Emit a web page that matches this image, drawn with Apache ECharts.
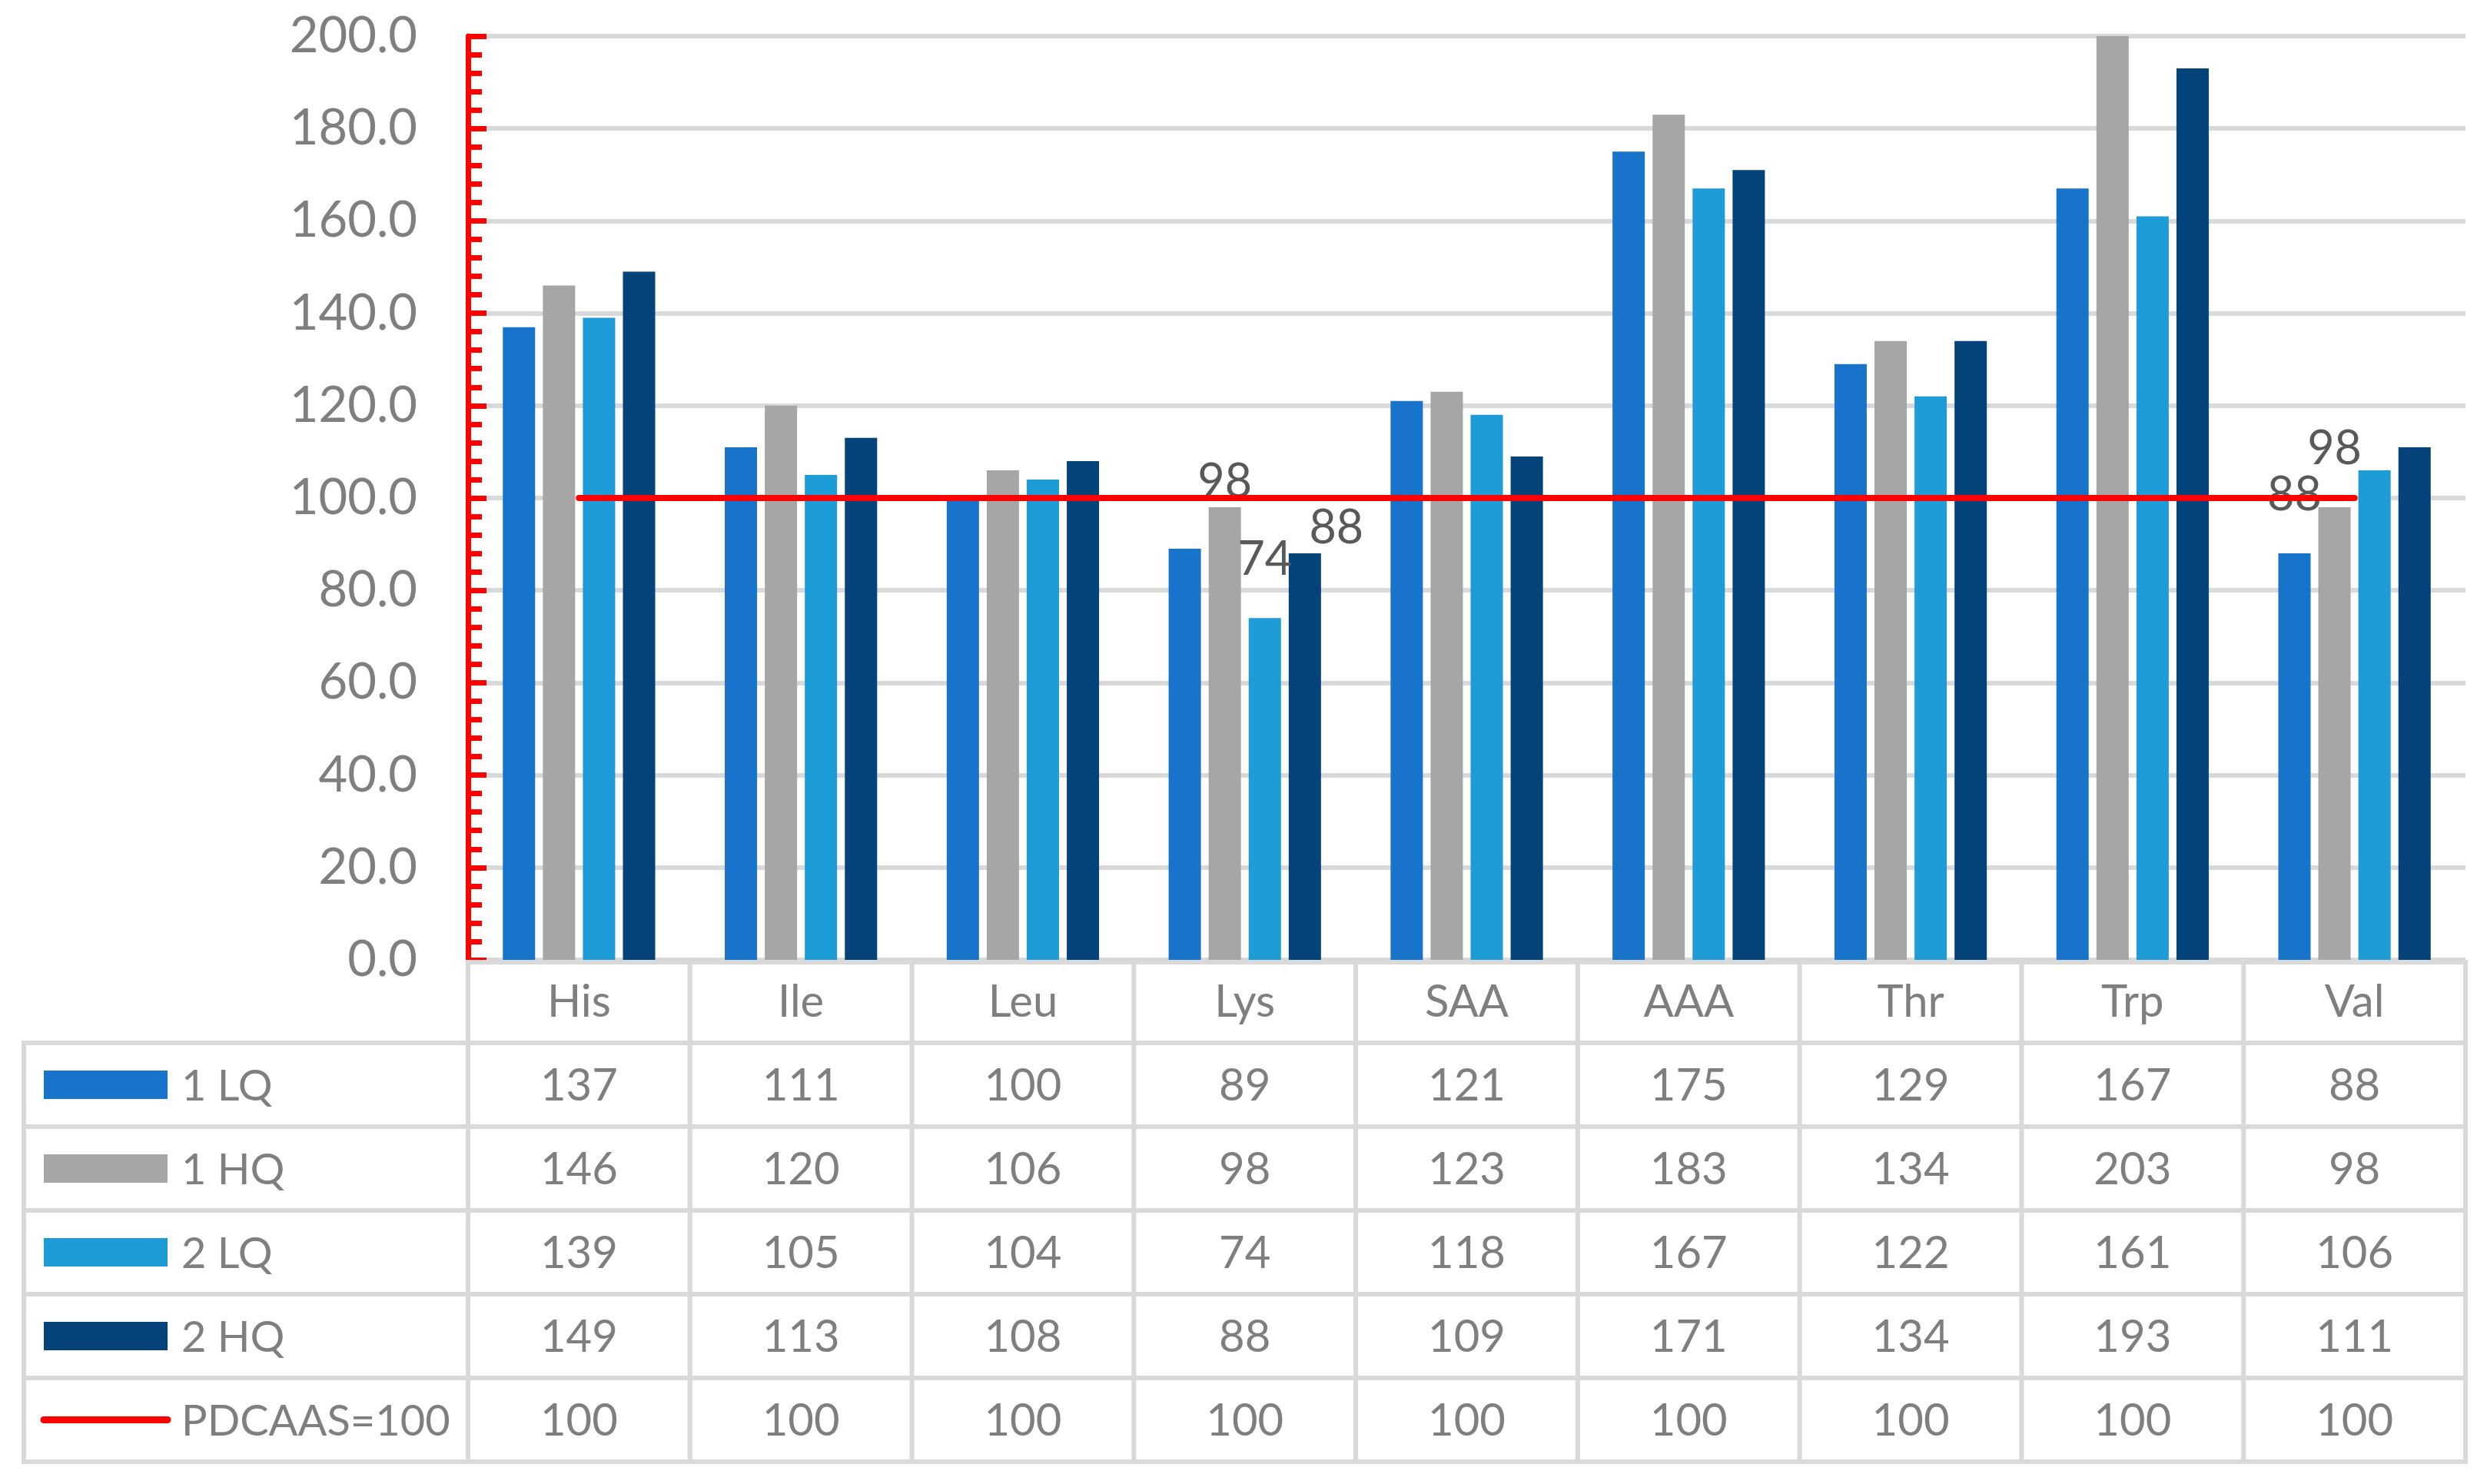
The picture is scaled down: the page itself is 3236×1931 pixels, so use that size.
<!DOCTYPE html>
<html>
<head>
<meta charset="utf-8">
<script src="https://cdn.jsdelivr.net/npm/echarts@6/dist/echarts.min.js"></script>
<style>
html,body{margin:0;padding:0;background:#fff;}
#c{width:3236px;height:1931px;}
</style>
</head>
<body>
<div id="c"></div>
<script>
const categories = ['His','Ile','Leu','Lys','SAA','AAA','Thr','Trp','Val'];
const seriesNames = ['1 LQ','1 HQ','2 LQ','2 HQ','PDCAAS=100'];
const s1LQ = [137,111,100,89,121,175,129,167,88];
const s1HQ = [146,120,106,98,123,183,134,203,98];
const s2LQ = [139,105,104,74,118,167,122,161,106];
const s2HQ = [149,113,108,88,109,171,134,193,111];
const pdcaas = [100,100,100,100,100,100,100,100,100];
const yMin = 0, yMax = 200, yStep = 20;

// which bars carry a value label (series index, category index)
const labeled = [[1,3],[2,3],[3,3],[0,8],[1,8]];
const labelOffsets = {'1,3':[0,0],'2,3':[0,-43],'3,3':[41,0],'0,8':[0,-43],'1,8':[0,-43]};

const barColors = ['#1873CB','#A6A6A6','#1E9CD8','#03437A'];
const lineColor = '#FF0000';
const gridColor = '#D9D9D9';
const textColor = '#7F7F7F';
const FONT = 'Lato';

const barData = [s1LQ, s1HQ, s2LQ, s2HQ];

const chart = echarts.init(document.getElementById('c'), null, {renderer:'canvas'});

function buildBarSeries(idx){
  return {
    name: seriesNames[idx],
    type: 'bar',
    barWidth: 42,
    barGap: '24%',
    itemStyle: {color: barColors[idx]},
    z: 2,
    data: barData[idx].map((v, ci) => {
      const key = idx + ',' + ci;
      if (labeled.some(p => p[0] === idx && p[1] === ci)) {
        return {value: v, label: {show: true, position: 'top', distance: 2,
          offset: labelOffsets[key], color: '#595959', fontSize: 61, fontFamily: FONT}};
      }
      return v;
    })
  };
}

const option = {
  animation: false,
  backgroundColor: '#fff',
  grid: {left: 609, right: 28, top: 47, bottom: 682, containLabel: false},
  xAxis: {
    type: 'category',
    data: categories,
    axisLine: {show: false},
    axisTick: {show: false},
    axisLabel: {show: true, color: textColor, fontSize: 58, fontFamily: FONT,
      margin: 55, verticalAlign: 'middle'}
  },
  yAxis: {
    type: 'value',
    min: yMin, max: yMax, interval: yStep,
    axisLine: {show: true, lineStyle: {color: lineColor, width: 7}},
    axisTick: {show: true, inside: true, length: 24, lineStyle: {color: lineColor, width: 7}},
    minorTick: {show: true, splitNumber: 5, length: 18, lineStyle: {color: lineColor, width: 7}},
    axisLabel: {color: textColor, fontSize: 65, fontFamily: FONT, margin: 66,
      formatter: v => v.toFixed(1)},
    splitLine: {show: true, lineStyle: {color: gridColor, width: 6}}
  },
  series: [
    buildBarSeries(0), buildBarSeries(1), buildBarSeries(2), buildBarSeries(3),
    {
      name: seriesNames[4], type: 'line', data: pdcaas, symbol: 'none', z: 5,
      lineStyle: {color: lineColor, width: 8, cap: 'round'}
    }
  ]
};
chart.setOption(option);

// ---- data table below the plot ----
const c0 = chart.convertToPixel({xAxisIndex: 0}, 0);
const c1 = chart.convertToPixel({xAxisIndex: 0}, 1);
const band = c1 - c0;
const tableLeftCol = c0 - band / 2;
const tableRight = tableLeftCol + band * categories.length;
const axisY = chart.convertToPixel({yAxisIndex: 0}, 0);
const headerTop = axisY + 3;
const rowTop = 1357;
const rowH = 109;
const outerLeft = 31;
const rowsData = [s1LQ, s1HQ, s2LQ, s2HQ, pdcaas];
const nRows = rowsData.length;
const tableBottom = rowTop + rowH * nRows;

const g = [];
function hline(y, x1, x2){
  g.push({type:'line', shape:{x1:x1, y1:y, x2:x2, y2:y}, style:{stroke:gridColor, lineWidth:6}, z:10});
}
function vline(x, y1, y2){
  g.push({type:'line', shape:{x1:x, y1:y1, x2:x, y2:y2}, style:{stroke:gridColor, lineWidth:6}, z:10});
}
hline(headerTop, tableLeftCol - 3, tableRight + 3);
for (let r = 0; r <= nRows; r++) hline(rowTop + r * rowH, outerLeft - 3, tableRight + 3);
vline(outerLeft, rowTop, tableBottom + 3);
for (let k = 0; k <= categories.length; k++) vline(tableLeftCol + k * band, headerTop - 3, tableBottom + 3);

for (let r = 0; r < nRows; r++) {
  const cy = rowTop + rowH * r + rowH / 2;
  // legend key
  if (r < 4) {
    g.push({type:'rect', shape:{x:57, y:cy - 18.5, width:161, height:37}, style:{fill:barColors[r]}, z:11});
  } else {
    g.push({type:'line', shape:{x1:57, y1:cy, x2:218, y2:cy}, style:{stroke:lineColor, lineWidth:9, lineCap:'round'}, z:11});
  }
  g.push({type:'text', z:11, style:{text:seriesNames[r], x:236, y:cy + 2, font:'56px ' + FONT,
    fill:textColor, align:'left', textAlign:'left', verticalAlign:'middle', textVerticalAlign:'middle'}});
  for (let ci = 0; ci < categories.length; ci++) {
    const cx = chart.convertToPixel({xAxisIndex: 0}, ci);
    g.push({type:'text', z:11, style:{text:String(rowsData[r][ci]), x:cx, y:cy + 2, font:'58px ' + FONT,
      fill:textColor, align:'center', textAlign:'center', verticalAlign:'middle', textVerticalAlign:'middle'}});
  }
}
chart.setOption({graphic: {elements: g}});
</script>
</body>
</html>
